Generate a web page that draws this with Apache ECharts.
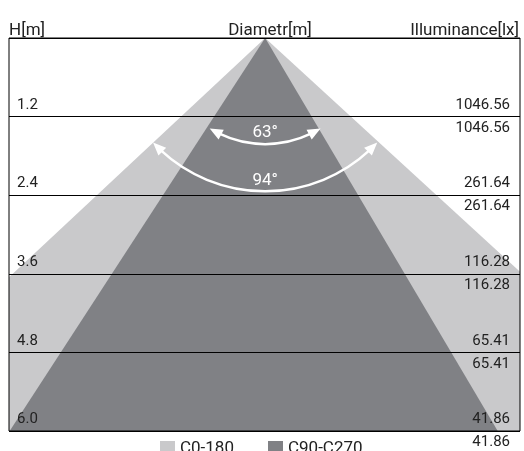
<!DOCTYPE html>
<html>
<head>
	<meta charset="utf-8">
	<title>light cone</title>
	<script type="text/javascript" src="https://cdn.jsdelivr.net/npm/echarts@6.0.0/dist/echarts.min.js"></script>
	<style>
		html, body { margin: 0; padding: 0; background: #fff; }
		#chart { width: 524px; height: 451px; }
	</style>
</head>
<body>
	<div id="chart"></div>
	<script type="text/javascript">
		// mounting heights [m] and illuminance at each height [lx]
		const heights = [1.2, 2.4, 3.6, 4.8, 6.0];
		const illuminance = ['1046.56', '261.64', '116.28', '65.41', '41.86'];
		// cone outlines [diameter offset m, height m]
		const c0Cone = [[0, 0], [-6.42, 6], [6.54, 6]];
		const c90Cone = [[0, 0], [-3.9, 6], [3.55, 6]];
		// beam angles and radius of the angle arrows [m]
		const beamAngles = [94, 63];
		const arcRadius = [2.34, 1.62];

		const numFont = 'Roboto, sans-serif';
		const headFont = 'Roboto, "Liberation Sans", sans-serif';
		const txtColor = '#222';

		function coneSeries(name, pts, color) {
			return {
				name: name,
				type: 'custom',
				clip: true,
				z: 1,
				itemStyle: { color: color },
				data: [0],
				renderItem: function (params, api) {
					return {
						type: 'polygon',
						shape: { points: pts.map(p => api.coord(p)) },
						style: { fill: color }
					};
				}
			};
		}

		function arrowHead(tip, dir, len, w) {
			const bx = tip[0] - dir[0] * len, by = tip[1] - dir[1] * len;
			const nx = -dir[1] * w / 2, ny = dir[0] * w / 2;
			return {
				type: 'polygon',
				shape: { points: [tip, [bx + nx, by + ny], [bx - nx, by - ny]] },
				style: { fill: '#fff' }
			};
		}

		const chart = echarts.init(document.getElementById('chart'), null, { renderer: 'canvas' });
		const option = {
			animation: false,
			backgroundColor: '#fff',
			title: [
				{ text: 'H[m]', left: 4, top: 17, textStyle: { fontFamily: headFont, fontSize: 17, fontWeight: 'normal', color: txtColor } },
				{ text: 'Diametr[m]', left: 265, textAlign: 'center', top: 17, textStyle: { fontFamily: headFont, fontSize: 17, fontWeight: 'normal', color: txtColor } },
				{ text: 'Illuminance[lx]', right: 0, top: 17, textStyle: { fontFamily: headFont, fontSize: 17, fontWeight: 'normal', color: txtColor } }
			],
			legend: {
				data: ['C0-180', 'C90-C270'],
				left: 155,
				top: 435,
				icon: 'rect',
				itemWidth: 15,
				itemHeight: 15,
				itemGap: 34,
				textStyle: { fontFamily: headFont, fontSize: 17, color: txtColor, padding: [2, 0, 0, 0] }
			},
			grid: {
				left: 9, right: 4, top: 38, bottom: 20,
				show: true, z: 3,
				borderColor: '#000', borderWidth: 1,
				backgroundColor: 'transparent'
			},
			xAxis: { type: 'value', min: -3.91, max: 3.89, show: false },
			yAxis: [
				{
					type: 'value', inverse: true, min: 0, max: 6, interval: 1.2, z: 3,
					axisLine: { show: false }, axisTick: { show: false },
					splitLine: { lineStyle: { color: '#000', width: 1 } },
					axisLabel: {
						inside: true, margin: 8, showMaxLabel: true,
						verticalAlign: 'bottom', lineHeight: 23,
						fontFamily: numFont, fontSize: 15, color: txtColor,
						formatter: v => v === 0 ? '' : v.toFixed(1)
					}
				},
				{
					type: 'value', inverse: true, min: 0, max: 6, interval: 1.2, position: 'right', z: 3,
					axisLine: { show: false }, axisTick: { show: false }, splitLine: { show: false },
					axisLabel: {
						inside: true, margin: 10, showMaxLabel: true, verticalAlign: 'middle',
						formatter: function (v) {
							const i = heights.findIndex(h => Math.abs(h - v) < 1e-6);
							if (i < 0) return '';
							return '{v|' + illuminance[i] + '}\n{v|' + illuminance[i] + '}';
						},
						rich: { v: { fontFamily: numFont, fontSize: 15, color: txtColor, lineHeight: 23, align: 'right' } }
					}
				}
			],
			series: [
				coneSeries('C0-180', c0Cone, '#c9c9cb'),
				coneSeries('C90-C270', c90Cone, '#808185'),
				{
					name: 'angles',
					type: 'custom',
					z: 2,
					data: beamAngles,
					renderItem: function (params, api) {
						const i = params.dataIndex;
						const c = api.coord([0, 0]);
						const r = api.size([arcRadius[i], 0])[0];
						const half = beamAngles[i] / 2 * Math.PI / 180;
						const headLen = 13;
						const dA = headLen / r;
						const a0 = Math.PI / 2 - half, a1 = Math.PI / 2 + half;
						const tip0 = [c[0] + r * Math.cos(a0), c[1] + r * Math.sin(a0)];
						const tip1 = [c[0] + r * Math.cos(a1), c[1] + r * Math.sin(a1)];
						const m0 = a0 + dA / 2, m1 = a1 - dA / 2;
						const d0 = [Math.sin(m0), -Math.cos(m0)];
						const d1 = [-Math.sin(m1), Math.cos(m1)];
						return {
							type: 'group',
							children: [
								{
									type: 'arc',
									shape: { cx: c[0], cy: c[1], r: r, startAngle: a0 + dA * 0.8, endAngle: a1 - dA * 0.8, clockwise: true },
									style: { stroke: '#fff', lineWidth: 2.5, fill: null }
								},
								arrowHead(tip0, d0, headLen, 11),
								arrowHead(tip1, d1, headLen, 11),
								{
									type: 'text',
									x: c[0], y: c[1] + r - 11,
									style: {
										text: beamAngles[i] + '°', fill: '#fff',
										fontFamily: headFont, fontSize: 17,
										align: 'center', verticalAlign: 'middle'
									}
								}
							]
						};
					}
				}
			]
		};
		chart.setOption(option);
	</script>
</body>
</html>
